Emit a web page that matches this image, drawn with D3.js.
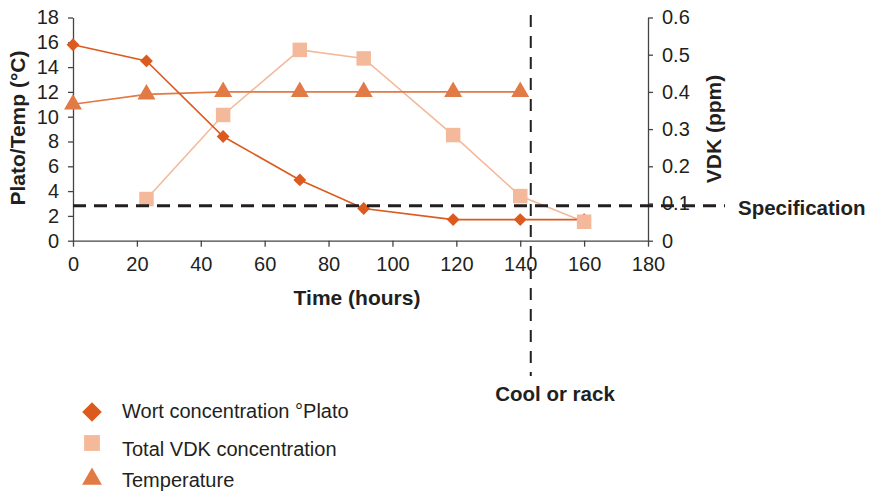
<!DOCTYPE html>
<html>
<head>
<meta charset="utf-8">
<script src="https://cdn.jsdelivr.net/npm/d3@7"></script>
<style>
  html, body { margin: 0; padding: 0; background: #fff; }
  svg { display: block; font-family: "Liberation Sans", Arial, Helvetica, sans-serif; }
</style>
</head>
<body>
<svg id="chart" width="872" height="494"></svg>
<script>
// Fermentation profile: wort gravity, total VDK and temperature over time
const hoursPlato = [0, 23, 47, 71, 91, 119, 140, 160];
const plato      = [15.8, 14.5, 8.4, 4.9, 2.6, 1.7, 1.7, 1.7];

const hoursVdk   = [23, 47, 71, 91, 119, 140, 160];
const vdk        = [0.112, 0.338, 0.513, 0.49, 0.284, 0.12, 0.051];

const hoursTemp  = [0, 23, 47, 71, 91, 119, 140];
const temp       = [11.0, 11.8, 12, 12, 12, 12, 12];

const specVdk    = 0.094;   // VDK specification level (ppm)
const coolTime   = 143.3;   // time of cooling / racking (hours)

const xTicks     = [0, 20, 40, 60, 80, 100, 120, 140, 160, 180];
const leftTicks  = [0, 2, 4, 6, 8, 10, 12, 14, 16, 18];
const rightTicks = [0, 0.1, 0.2, 0.3, 0.4, 0.5, 0.6];

const legendItems = ["Wort concentration \u00B0Plato", "Total VDK concentration", "Temperature"];

const colPlato = "#dc5a1e", colVdk = "#f3b99a", colTemp = "#e27a45";
const ink = "#231f20";

const svg = d3.select("#chart");
const plotLeft = 73, plotRight = 648, plotTop = 17.5, plotBottom = 240.7;

const x  = d3.scaleLinear().domain([0, 180]).range([plotLeft, plotRight]);
const yL = d3.scaleLinear().domain([0, 18]).range([plotBottom, plotTop]);
const yR = d3.scaleLinear().domain([0, 0.6]).range([plotBottom, plotTop]);

// axes
function styleAxis(g) {
  g.selectAll("path.domain").attr("stroke", "#444").attr("stroke-width", 1.3);
  g.selectAll(".tick line").attr("stroke", "#444").attr("stroke-width", 1.3);
  g.selectAll(".tick text").attr("fill", ink).attr("font-size", 20);
}
svg.append("g").attr("transform", `translate(0,${plotBottom})`)
  .call(d3.axisBottom(x).tickValues(xTicks).tickSize(6).tickSizeOuter(0).tickPadding(10))
  .call(styleAxis);
svg.append("g").attr("transform", `translate(${plotLeft},0)`)
  .call(d3.axisLeft(yL).tickValues(leftTicks).tickSize(5).tickSizeOuter(0).tickPadding(9))
  .call(styleAxis);
svg.append("g").attr("transform", `translate(${plotRight},0)`)
  .call(d3.axisRight(yR).tickValues(rightTicks).tickFormat(d => d === 0 ? "0" : d3.format(".1f")(d)).tickSize(5).tickSizeOuter(0).tickPadding(9))
  .call(styleAxis);

// axis titles
svg.append("text").attr("x", 357).attr("y", 305).attr("text-anchor", "middle")
  .attr("font-size", 21).attr("font-weight", "bold").attr("fill", ink).text("Time (hours)");
svg.append("text").attr("transform", "translate(25,128) rotate(-90)").attr("text-anchor", "middle")
  .attr("font-size", 21).attr("font-weight", "bold").attr("fill", ink).text("Plato/Temp (\u00B0C)");
svg.append("text").attr("transform", "translate(721,129) rotate(-90)").attr("text-anchor", "middle")
  .attr("font-size", 21).attr("font-weight", "bold").attr("fill", ink).text("VDK (ppm)");

// series lines
const line = d3.line();
function drawLine(xs, ys, scale, color) {
  svg.append("path").attr("fill", "none").attr("stroke", color).attr("stroke-width", 1.6)
    .attr("d", line(xs.map((h, i) => [x(h), scale(ys[i])])));
}
drawLine(hoursVdk, vdk, yR, colVdk);
drawLine(hoursTemp, temp, yL, colTemp);
drawLine(hoursPlato, plato, yL, colPlato);

// markers
const sym = (type, size) => d3.symbol().type(type).size(size)();
function drawMarks(xs, ys, scale, color, path) {
  svg.append("g").selectAll("path").data(xs).join("path")
    .attr("transform", (h, i) => `translate(${x(h)},${scale(ys[i])})`)
    .attr("d", path).attr("fill", color);
}
drawMarks(hoursPlato, plato, yL, colPlato, sym(d3.symbolDiamond2, 105));
drawMarks(hoursTemp, temp, yL, colTemp, sym(d3.symbolTriangle, 140));
drawMarks(hoursVdk, vdk, yR, colVdk, sym(d3.symbolSquare, 210));

// specification line
svg.append("line").attr("x1", plotLeft).attr("x2", 725)
  .attr("y1", yR(specVdk)).attr("y2", yR(specVdk))
  .attr("stroke", ink).attr("stroke-width", 3).attr("stroke-dasharray", "13,8");
svg.append("text").attr("x", 738).attr("y", 215).attr("font-size", 20.5)
  .attr("font-weight", "bold").attr("fill", ink).text("Specification");

// cool/rack marker line
svg.append("line").attr("x1", x(coolTime)).attr("x2", x(coolTime)).attr("y1", 15).attr("y2", 376)
  .attr("stroke", ink).attr("stroke-width", 2).attr("stroke-dasharray", "12,9");
svg.append("text").attr("x", 555).attr("y", 401).attr("text-anchor", "middle").attr("font-size", 20.5)
  .attr("font-weight", "bold").attr("fill", ink).text("Cool or rack");

// legend
const legendPaths = [sym(d3.symbolDiamond2, 245), sym(d3.symbolSquare, 250), sym(d3.symbolTriangle, 170)];
const legendColors = [colPlato, colVdk, colTemp];
const legendMarkY = [412, 443, 479];
const legendTextY = [418, 456, 487];
const lg = svg.append("g");
legendItems.forEach((name, i) => {
  lg.append("path").attr("transform", `translate(92,${legendMarkY[i]})`)
    .attr("d", legendPaths[i]).attr("fill", legendColors[i]);
  lg.append("text").attr("x", 122).attr("y", legendTextY[i]).attr("font-size", 20)
    .attr("fill", ink).text(name);
});
</script>
</body>
</html>
